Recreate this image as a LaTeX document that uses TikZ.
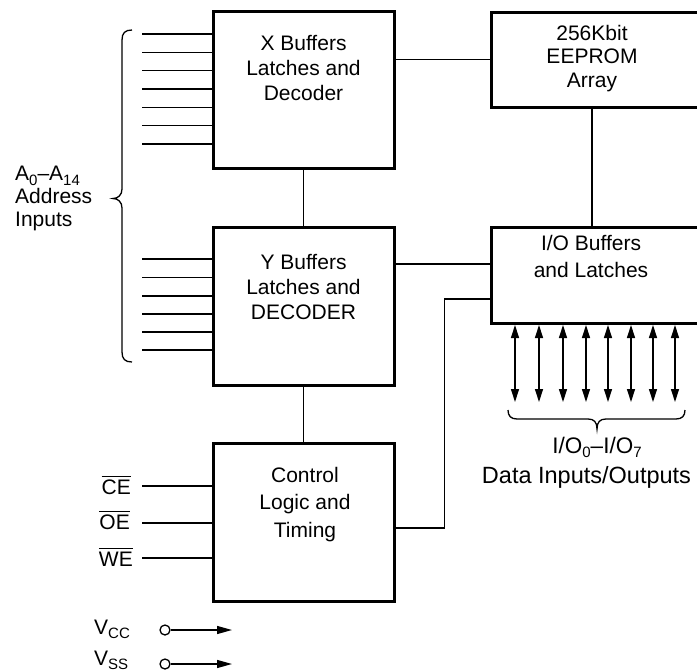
\documentclass[tikz,border=0pt]{standalone}
\usepackage{fontspec}
\setmainfont{Liberation Sans}
\usetikzlibrary{arrows.meta,calc}
\newcommand{\lsub}[1]{\raisebox{-0.22em}{\fontsize{15}{15}\selectfont #1}}
\newcommand{\ovl}[1]{\leavevmode\vbox{\hrule height 1.1pt\kern 2.4pt\hbox{#1}}}
\begin{document}
\begin{tikzpicture}[x=1pt,y=-1pt,
  box/.style={draw, line width=3pt, inner sep=0pt, minimum width=181pt, minimum height=157pt},
  wbox/.style={draw, line width=3pt, inner sep=0pt, minimum width=209pt, minimum height=95pt},
  wire/.style={line width=1.3pt},
  txt/.style={font=\fontsize{21}{25}\selectfont, align=center, inner sep=0pt},
  bidir/.style={line width=1.3pt, {Triangle[length=13pt,width=8pt]}-{Triangle[length=13pt,width=8pt]}},
  pwr/.style={line width=1.3pt, -{Triangle[length=15pt,width=8pt]}},
  brc/.style={line width=1.3pt}
]
\useasboundingbox (0,0) rectangle (697,672);
\clip (0,0) rectangle (697,672);

% blocks
\node[box] (xb) at (303.5,89.5) {};
\node[wbox] (eb) at (595.5,59.5) {};
\node[box, minimum height=158pt] (yb) at (303.5,306) {};
\node[wbox, minimum height=96pt] (io) at (595.5,275) {};
\node[box, minimum height=158pt] (cb) at (303.5,522) {};

% block texts (base anchor = baseline of last line)
\node[txt, anchor=base] (xt) at (303.5,100) {X Buffers\\Latches and\\Decoder};
\node[txt, font=\fontsize{21}{23.5}\selectfont, anchor=base] (et) at (592,87) {256Kbit\\EEPROM\\Array};
\node[txt, anchor=base] (yt) at (303.5,319) {Y Buffers\\Latches and\\DECODER};
\node[txt, font=\fontsize{21}{27}\selectfont, anchor=base] (iot) at (591,277) {I/O Buffers\\and Latches};
\node[txt, font=\fontsize{21}{27.5}\selectfont, anchor=base] (ct) at (305,537) {Control\\Logic and\\Timing};

% connections between blocks
\draw[wire] (eb.west -| xb.east) -- (eb.west);
\draw[wire] ([xshift=-3.5pt]eb.south) -- ([xshift=-3.5pt]eb.south |- io.north);
\draw[wire] (xb.south) -- (yb.north);
\draw[wire] (yb.south) -- (cb.north);
\draw[wire] ([yshift=11pt]io.west -| yb.east) -- ([yshift=11pt]io.west);
\draw[wire] ([yshift=-6pt]cb.east) -- ++(49,0) |- ([yshift=-24pt]io.west);

% address inputs
\foreach \y [count=\i] in {34,52.3,70.7,89,107.3,125.7,144} {
  \coordinate (ax\i) at (142,\y);
  \draw[wire] (ax\i) -- (ax\i -| xb.west);
}
\foreach \y [count=\i] in {259,277.5,296,314,332,350} {
  \coordinate (ay\i) at (142,\y);
  \draw[wire] (ay\i) -- (ay\i -| yb.west);
}
\draw[brc] (132,30) .. controls (125,30) and (122,33) .. (122,40) -- (122,189)
  .. controls (122,195) and (118,198.5) .. (113,198.5)
  .. controls (118,198.5) and (122,202) .. (122,208) -- (122,352)
  .. controls (122,359) and (125,362) .. (132,362);
\node[txt, font=\fontsize{21}{23}\selectfont, align=left, anchor=base west] (al) at (15,226.5) {A\lsub{0}–A\lsub{14}\\Address\\Inputs};

% control inputs
\foreach \y/\n in {486/ce,523/oe,558/we} {
  \coordinate (\n) at (142,\y);
  \draw[wire] (\n) -- (\n -| cb.west);
}
\node[txt, anchor=base east] (cel) at (131,494) {\ovl{CE}};
\node[txt, anchor=base east] (oel) at (130,529) {\ovl{OE}};
\node[txt, anchor=base east] (wel) at (133,566) {\ovl{WE}};

% data lines
\foreach \x [count=\i] in {515,539,563,586,608,631,653,675} {
  \coordinate (dt\i) at (\x,325);
  \coordinate (db\i) at (\x,402);
  \draw[bidir] (dt\i) -- (db\i);
}
\draw[brc] (508,410) .. controls (508,416) and (511,419) .. (517,419) -- (588,419)
  .. controls (594,419) and (597,422) .. (597,429)
  .. controls (597,422) and (600,419) .. (606,419) -- (676,419)
  .. controls (682,419) and (685,416) .. (685,410);
\node[txt, font=\fontsize{22.5}{30}\selectfont, anchor=base] (dl1) at (597,453) {I/O\lsub{0}–I/O\lsub{7}};
\node[txt, font=\fontsize{23.5}{30}\selectfont, anchor=base] (dl2) at (586.5,483) {Data Inputs/Outputs};

% power
\node[circle, draw, line width=1.3pt, minimum size=10pt, inner sep=0pt] (vc) at (165,630) {};
\coordinate (vce) at (232,630);
\draw[pwr] (vc) -- (vce);
\node[circle, draw, line width=1.3pt, minimum size=10pt, inner sep=0pt] (vs) at (165,664) {};
\coordinate (vse) at (232,664);
\draw[pwr] (vs) -- (vse);
\node[txt, anchor=base west] (vcl) at (94,634) {V\lsub{CC}};
\node[txt, anchor=base west] (vsl) at (94,665) {V\lsub{SS}};
\end{tikzpicture}
\end{document}
